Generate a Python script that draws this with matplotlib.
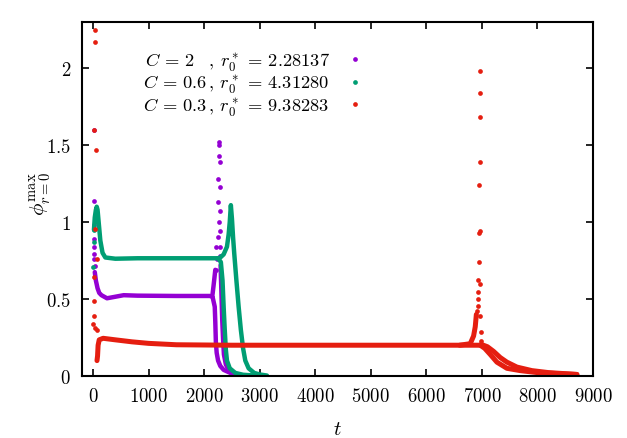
import matplotlib
matplotlib.use("Agg")
import matplotlib.pyplot as plt
from matplotlib.lines import Line2D
from matplotlib.ticker import FuncFormatter, MultipleLocator

plt.rcParams["mathtext.fontset"] = "cm"
plt.rcParams["font.family"] = "serif"

# =============================================================================
# data  (t, phi_max at r=0)
# =============================================================================
# C = 2 (purple)
purple_dots_t = [10, 12, 15, 18, 20, 22, 25, 28,
                 2205, 2228, 2216, 2240, 2246, 2252, 2264, 2264,
                 2288, 2276, 2258, 2288, 2282, 2276, 2270, 2288]
purple_dots_phi = [1.60, 1.14, 0.98, 0.89, 0.84, 0.79, 0.76, 0.715,
                   0.69, 0.76, 0.84, 0.90, 1.13, 1.28, 1.50, 1.52,
                   0.84, 0.94, 1.00, 1.07, 1.23, 1.39, 1.43, 0.78]
purple_run_t = [30, 50, 80, 110, 150, 250, 400, 550, 800, 1500, 2100, 2150]
purple_run_phi = [0.675, 0.62, 0.57, 0.54, 0.525, 0.505, 0.515, 0.525,
                  0.522, 0.52, 0.52, 0.515]
purple_down_a_t = [2150, 2190, 2200, 2210, 2225, 2250, 2290, 2350, 2470, 2590]
purple_down_a_phi = [0.515, 0.45, 0.35, 0.22, 0.15, 0.10, 0.065, 0.04, 0.02, 0.005]
purple_up_b_t = [2150, 2168, 2200]
purple_up_b_phi = [0.53, 0.585, 0.69]
purple_down_b_t = [2295, 2305, 2315, 2325, 2340, 2355, 2390, 2440, 2530, 2620]
purple_down_b_phi = [0.72, 0.60, 0.48, 0.36, 0.24, 0.14, 0.075, 0.04, 0.015, 0.005]

# C = 0.6 (green)
green_dots_t = [5, 8, 12]
green_dots_phi = [0.71, 0.87, 0.95]
green_run_t = [15, 30, 50, 65, 80, 100, 130, 170, 220, 400, 800, 1500, 2250]
green_run_phi = [0.95, 1.03, 1.08, 1.10, 1.08, 1.00, 0.88, 0.80, 0.77,
                 0.762, 0.765, 0.765, 0.765]
green_down_a_t = [2250, 2300, 2330, 2350, 2370, 2390, 2410, 2460, 2560, 2700, 2950]
green_down_a_phi = [0.765, 0.74, 0.62, 0.45, 0.30, 0.17, 0.10, 0.05, 0.02, 0.008, 0.002]
green_peak_b_t = [2250, 2290, 2350, 2410, 2440, 2460, 2480, 2500, 2520, 2540,
                  2580, 2620, 2660, 2700, 2740, 2800, 2900, 3000, 3130]
green_peak_b_phi = [0.765, 0.77, 0.79, 0.84, 0.92, 1.00, 1.11, 1.02, 0.90, 0.80,
                    0.62, 0.45, 0.30, 0.18, 0.10, 0.05, 0.02, 0.01, 0.003]

# C = 0.3 (red)
red_dots_t = [30, 40, 20, 48, 36, 66, 24, 24, 24, 6, 36, 66,
              6910, 6922, 6922, 6928, 6934, 6940, 6952, 6970, 6952, 6970,
              6958, 6964, 6958, 6970, 6970, 6982, 6982]
red_dots_phi = [2.25, 2.17, 1.60, 1.47, 0.955, 0.76, 0.64, 0.49, 0.39, 0.34, 0.31, 0.30,
                0.42, 0.455, 0.50, 0.547, 0.625, 0.74, 0.93, 0.94, 1.24, 1.39,
                1.68, 1.836, 1.98, 0.597, 0.39, 0.285, 0.227]
red_run_t = [70, 80, 90, 110, 180, 400, 700, 1000, 1500, 2500, 6600, 6970]
red_run_phi = [0.10, 0.13, 0.20, 0.235, 0.245, 0.235, 0.222, 0.212, 0.203,
               0.20, 0.20, 0.20]
red_up_b_t = [6600, 6790, 6850, 6880, 6900]
red_up_b_phi = [0.20, 0.21, 0.26, 0.32, 0.40]
red_down_a_t = [6970, 7050, 7150, 7270, 7450, 7690, 8000, 8400, 8710]
red_down_a_phi = [0.20, 0.18, 0.14, 0.09, 0.05, 0.035, 0.022, 0.015, 0.01]
red_down_b_t = [6990, 7100, 7210, 7330, 7450, 7630, 7900, 8200, 8500, 8710]
red_down_b_phi = [0.205, 0.19, 0.16, 0.12, 0.09, 0.058, 0.035, 0.022, 0.015, 0.01]

labels = [r"$C\,=\,2\enspace\;\,,\, r_0^*\,=\,2.28137$",
          r"$C\,=\,0.6\,,\, r_0^*\,=\,4.31280$",
          r"$C\,=\,0.3\,,\, r_0^*\,=\,9.38283$"]
colors = ["#9400d3", "#009e73", "#e51e10"]

# =============================================================================
# plot
# =============================================================================
fig = plt.figure(figsize=(6.27, 4.39), dpi=100)
ax = fig.add_axes([82 / 627, 1 - 377 / 439, 511 / 627, 354 / 439])

lw = 3.2
ms = 3.4
c_p, c_g, c_r = colors

for tt, pp in [(purple_run_t, purple_run_phi), (purple_down_a_t, purple_down_a_phi),
               (purple_up_b_t, purple_up_b_phi), (purple_down_b_t, purple_down_b_phi)]:
    ax.plot(tt, pp, "-", color=c_p, lw=lw, solid_capstyle="round")
ax.plot(purple_dots_t, purple_dots_phi, "o", ms=ms, color=c_p, mew=0)

for tt, pp in [(green_run_t, green_run_phi), (green_down_a_t, green_down_a_phi),
               (green_peak_b_t, green_peak_b_phi)]:
    ax.plot(tt, pp, "-", color=c_g, lw=lw, solid_capstyle="round")
ax.plot(green_dots_t, green_dots_phi, "o", ms=ms, color=c_g, mew=0)

for tt, pp in [(red_run_t, red_run_phi), (red_up_b_t, red_up_b_phi),
               (red_down_a_t, red_down_a_phi), (red_down_b_t, red_down_b_phi)]:
    ax.plot(tt, pp, "-", color=c_r, lw=lw + 0.4, solid_capstyle="round")
ax.plot(red_dots_t, red_dots_phi, "o", ms=ms, color=c_r, mew=0)

ax.set_xlim(-200, 9000)
ax.set_ylim(0, 2.3)
ax.xaxis.set_major_locator(MultipleLocator(1000))
ax.yaxis.set_major_locator(MultipleLocator(0.5))
fmt = FuncFormatter(lambda v, p: f"${v:g}$")
ax.xaxis.set_major_formatter(fmt)
ax.yaxis.set_major_formatter(fmt)
ax.tick_params(direction="in", top=True, right=True, length=5, width=1.2,
               labelsize=13.5, pad=8)
for s in ax.spines.values():
    s.set_linewidth(1.5)

ax.set_xlabel("$t$", fontsize=15, va="center")
ax.xaxis.set_label_coords(0.5, -0.147)
ax.set_ylabel(r"$\phi^{\mathrm{max}}_{r=0}$", fontsize=15, va="center")
ax.yaxis.set_label_coords(-0.082, 0.517)

handles = [Line2D([], [], ls="none", marker="o", ms=ms, color=c, mew=0) for c in colors]
ax.legend(handles, labels, loc="upper left", bbox_to_anchor=(0.102, 0.946),
          frameon=False, markerfirst=False, fontsize=13.3, handlelength=1.5,
          handletextpad=0.6, labelspacing=0.0, borderpad=0)

fig.savefig("out.png", dpi=100)
